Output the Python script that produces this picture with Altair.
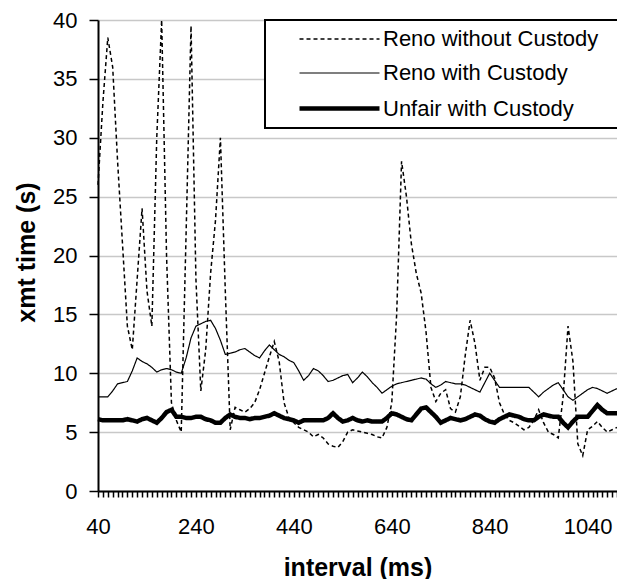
import altair as alt
import pandas as pd

# ---------------- data ----------------
interval_ms = list(range(40, 1101, 10))  # 107 categories

reno_without = [
    26, 33, 38.5, 36, 28, 21, 14, 12, 18, 24,
    17, 14, 30, 40, 20, 7.5, 6, 5, 22, 39.5,
    18, 8.5, 12, 18.5, 23, 30, 17, 5.2, 7.1, 6.9,
    6.7, 7, 7.5, 8.6, 10, 11.4, 12.7, 11, 7.5, 6.2,
    5.8, 5.4, 5.2, 5.0, 4.6, 4.8, 4.5, 4.0, 3.8, 3.7,
    4.2, 5.0, 5.2, 5.1, 5.0, 4.9, 4.8, 4.6, 4.5, 5.4,
    7.5, 15, 28, 25, 21, 18.5, 16.8, 13.5, 8.8, 7.6,
    8.3, 8.6, 7.0, 6.7, 8.0, 11.5, 14.5, 12.5, 9.4, 10.5,
    10.5, 9.6, 7.5, 6.5, 6.0, 5.8, 5.5, 5.2, 5.4, 6.0,
    6.9, 5.8, 5.0, 4.8, 4.5, 8.0, 14.0, 11.0, 4.0, 3.0,
    5.2, 5.5, 5.9, 5.4, 5.0, 5.2, 5.4,
]

reno_with = [
    8.0, 8.0, 8.0, 8.5, 9.1, 9.2, 9.3, 10.2, 11.3, 11.0,
    10.8, 10.5, 10.1, 10.3, 10.4, 10.3, 10.1, 10.0, 11.3, 13.0,
    14.0, 14.2, 14.4, 14.5, 13.8, 12.8, 11.6, 11.7, 11.8, 12.0,
    12.1, 11.8, 11.5, 11.3, 11.9, 12.4, 12.0, 11.6, 11.4, 11.1,
    10.9, 10.2, 9.4, 9.8, 10.4, 10.2, 9.8, 9.3, 9.4, 9.6,
    9.8, 9.9, 9.2, 9.6, 10.1, 9.7, 9.2, 8.8, 8.3, 8.6,
    8.9, 9.1, 9.2, 9.3, 9.4, 9.5, 9.6, 9.5, 9.1, 8.8,
    9.0, 9.3, 9.2, 9.1, 9.1, 9.0, 8.8, 8.6, 8.4, 9.2,
    10.0, 9.4, 8.8, 8.8, 8.8, 8.8, 8.8, 8.8, 8.8, 8.4,
    8.0, 8.4, 8.7, 9.0, 9.2, 8.6, 8.0, 7.7, 8.0, 8.3,
    8.6, 8.8, 8.7, 8.5, 8.3, 8.5, 8.7,
]

unfair_with = [
    6.1, 6.0, 6.0, 6.0, 6.0, 6.0, 6.1, 6.0, 5.9, 6.1,
    6.2, 6.0, 5.8, 6.2, 6.7, 6.9, 6.3, 6.3, 6.2, 6.2,
    6.3, 6.3, 6.1, 6.0, 5.8, 5.8, 6.2, 6.5, 6.3, 6.2,
    6.2, 6.1, 6.2, 6.2, 6.3, 6.4, 6.6, 6.4, 6.2, 6.1,
    6.0, 5.8, 6.0, 6.0, 6.0, 6.0, 6.0, 6.2, 6.6, 6.2,
    5.9, 6.0, 6.2, 6.0, 5.9, 6.0, 5.9, 5.9, 5.9, 6.2,
    6.6, 6.5, 6.3, 6.1, 6.0, 6.5, 7.0, 7.1, 6.7, 6.3,
    5.8, 6.0, 6.2, 6.1, 6.0, 6.1, 6.3, 6.5, 6.4, 6.1,
    5.9, 5.8, 6.1, 6.3, 6.5, 6.4, 6.3, 6.1, 6.0, 6.0,
    6.3, 6.5, 6.4, 6.3, 6.3, 5.8, 5.4, 5.9, 6.3, 6.3,
    6.3, 6.8, 7.3, 6.9, 6.6, 6.6, 6.6,
]

series_names = ["Reno without Custody", "Reno with Custody", "Unfair with Custody"]
x_label_values = [40, 240, 440, 640, 840, 1040]
y_ticks = [0, 5, 10, 15, 20, 25, 30, 35, 40]

rows = []
for name, vals in zip(series_names, [reno_without, reno_with, unfair_with]):
    for x, v in zip(interval_ms, vals):
        rows.append({"interval": x, "xmt": v, "series": name})
df = pd.DataFrame(rows)

FONT = "Liberation Sans"
NBSP = "\u00a0"

legend = alt.Legend(
    title=NBSP,
    titleOrient="right",
    titlePadding=13,
    titleFontSize=4,
    orient="none",
    legendX=167,
    legendY=0,
    symbolType="M-4,0H4",
    symbolSize=400,
    symbolStrokeColor="black",
    symbolFillColor="transparent",
    labelFont=FONT,
    labelFontSize=22,
    labelColor="black",
    labelLimit=400,
    strokeColor="black",
    fillColor="white",
    padding=8,
    rowPadding=12,
    symbolOffset=54,
    labelOffset=31,
)

label_expr = "(datum.value - 40) % 200 == 0 ? datum.label : ''"

chart = (
    alt.Chart(df)
    .mark_line(color="black")
    .encode(
        x=alt.X(
            "interval:Q",
            scale=alt.Scale(domain=[40, 1100], nice=False, zero=False),
            axis=alt.Axis(
                values=interval_ms,
                format="d",
                labelExpr=label_expr,
                labelOverlap=False,
                labelFlush=False,
                grid=False,
                tickSize=6,
                labelPadding=19,
                titleY=84,
                titleBaseline="alphabetic",
            ),
            title="interval (ms)",
        ),
        y=alt.Y(
            "xmt:Q",
            scale=alt.Scale(domain=[0, 40], nice=False),
            axis=alt.Axis(
                values=y_ticks,
                grid=True,
                tickSize=9,
                labelPadding=12,
                titleX=-64,
                titleY=232,
                titleAlign="center",
                titleBaseline="alphabetic",
                titleAngle=270,
            ),
            title="xmt time (s)",
        ),
        strokeDash=alt.StrokeDash(
            "series:N",
            scale=alt.Scale(domain=series_names, range=[[4, 3], [1, 0], [1, 0]]),
            legend=legend,
        ),
        strokeWidth=alt.StrokeWidth(
            "series:N",
            scale=alt.Scale(type="ordinal", domain=series_names, range=[1.5, 1.2, 4.5]),
            legend=legend,
        ),
    )
    .properties(
        width=519,
        height=471,
        padding={"left": 90, "top": 12, "right": 0, "bottom": 88},
        autosize=alt.AutoSizeParams(type="none"),
    )
    .configure_view(stroke=None)
    .configure_axis(
        domainColor="black",
        domainWidth=2,
        tickColor="black",
        tickWidth=1.5,
        gridColor="#c8c8c8",
        gridWidth=1.5,
        labelFont=FONT,
        labelFontSize=22,
        labelColor="black",
        titleFont=FONT,
        titleFontSize=25,
        titleFontWeight="bold",
        titleColor="black",
    )
    .configure_legend(strokeWidth=2)
)

chart.save("out.html", embed_options={"renderer": "svg", "actions": False})
